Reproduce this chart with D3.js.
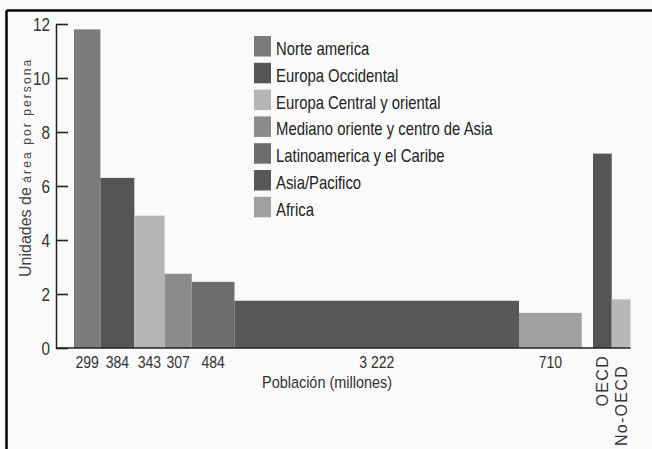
<!DOCTYPE html>
<html>
<head>
<meta charset="utf-8">
<script src="https://cdn.jsdelivr.net/npm/d3@7"></script>
<style>
  html, body { margin: 0; padding: 0; background: #fafafa; }
  svg { display: block; }
  text { font-family: "Liberation Sans", Arial, sans-serif; }
</style>
</head>
<body>
<svg id="chart" width="652" height="449"></svg>
<script>
// ---- data ----
const regions = ["Norte america", "Europa Occidental", "Europa Central y oriental",
  "Mediano oriente y centro de Asia", "Latinoamerica y el Caribe", "Asia/Pacifico", "Africa"];
const population = [299, 384, 343, 307, 484, 3222, 710];
const populationLabels = ["299", "384", "343", "307", "484", "3 222", "710"];
const areaPerPerson = [11.8, 6.3, 4.9, 2.75, 2.45, 1.75, 1.3];
const regionColors = ["#7b7b7b", "#555555", "#b5b5b5", "#8b8b8b", "#6d6d6d", "#585858", "#a0a0a0"];
const groups = ["OECD", "No-OECD"];
const groupValues = [7.2, 1.8];
const groupColors = ["#555555", "#b8b8b8"];
const yTicks = [0, 2, 4, 6, 8, 10, 12];

// ---- helpers ----
const SX = 0.85; // horizontal condensing (narrow typeface look)
function condensed(parent, x, y, str) {
  return parent.append("text")
    .attr("transform", `translate(${x},${y}) scale(${SX},1)`)
    .text(str);
}

// ---- layout ----
const svg = d3.select("#chart");
const axisX = 56, baseY = 348, topY = 24;

// frame (top and left lines)
svg.append("line").attr("x1", 6.5).attr("x2", 652).attr("y1", 10.5).attr("y2", 10.5)
  .attr("stroke", "#000").attr("stroke-width", 2.5);
svg.append("line").attr("x1", 6.5).attr("x2", 6.5).attr("y1", 10.5).attr("y2", 449)
  .attr("stroke", "#000").attr("stroke-width", 2.5);

const y = d3.scaleLinear().domain([0, 12]).range([baseY, topY]);
const cum = d3.cumsum(population);
const starts = population.map((p, i) => cum[i] - p);
const x = d3.scaleLinear().domain([0, d3.sum(population)]).range([74, 581.7]);
const xg = d3.scaleBand().domain(groups).range([593, 630.5]).padding(0);

// region bars
svg.append("g").selectAll("rect").data(regions).join("rect")
  .attr("x", (d, i) => x(starts[i]))
  .attr("width", (d, i) => x(cum[i]) - x(starts[i]))
  .attr("y", (d, i) => y(areaPerPerson[i]))
  .attr("height", (d, i) => baseY - y(areaPerPerson[i]))
  .attr("fill", (d, i) => regionColors[i]);

// group bars
svg.append("g").selectAll("rect").data(groups).join("rect")
  .attr("x", d => xg(d))
  .attr("width", xg.bandwidth())
  .attr("y", (d, i) => y(groupValues[i]))
  .attr("height", (d, i) => baseY - y(groupValues[i]))
  .attr("fill", (d, i) => groupColors[i]);

// y axis
const yAxis = d3.axisLeft(y).tickValues(yTicks).tickSizeInner(-12).tickSizeOuter(0).tickPadding(6);
const gy = svg.append("g").attr("transform", `translate(${axisX},0)`).call(yAxis);
gy.select(".domain").attr("stroke", "#222").attr("stroke-width", 1.5);
gy.selectAll(".tick line").attr("stroke", "#222").attr("stroke-width", 1.6);
gy.selectAll(".tick text")
  .attr("font-family", "Liberation Sans, Arial, sans-serif")
  .attr("font-size", 18).attr("fill", "#333")
  .attr("x", null).attr("dy", null)
  .attr("transform", `translate(-6,6.5) scale(${SX},1)`);

// bottom baseline
svg.append("line").attr("x1", axisX).attr("x2", xg.range()[1])
  .attr("y1", baseY).attr("y2", baseY).attr("stroke", "#222").attr("stroke-width", 1.5);

// population labels
const gl = svg.append("g").attr("font-size", 16.5).attr("fill", "#333").attr("text-anchor", "middle");
populationLabels.forEach((d, i) => {
  condensed(gl, (x(starts[i]) + x(cum[i])) / 2, 368, d);
});

// group labels (rotated)
svg.append("g").selectAll("text").data(groups).join("text")
  .attr("transform", (d, i) => `translate(${xg(d) + xg.bandwidth() / 2 + 6},${i === 0 ? 355 : 365}) rotate(-90)`)
  .attr("text-anchor", "end")
  .attr("font-size", 16)
  .attr("letter-spacing", 1.3)
  .attr("fill", "#333")
  .text(d => d);

// x title
const gxt = svg.append("g").attr("font-size", 17).attr("fill", "#333").attr("text-anchor", "middle");
condensed(gxt, 327, 388, "Población (millones)");

// y title
const yt = svg.append("text")
  .attr("transform", "translate(31,277) rotate(-90)")
  .attr("fill", "#444");
yt.append("tspan").attr("font-size", 16).text("Unidades de ");
yt.append("tspan").attr("font-size", 12).attr("letter-spacing", 2.1).text("área por persona");

// legend
const leg = svg.append("g").attr("font-size", 17.5).attr("fill", "#222");
regions.forEach((r, i) => {
  const ly = 36 + i * 26.8;
  leg.append("rect").attr("x", 254).attr("y", ly).attr("width", 17).attr("height", 20.5)
    .attr("fill", regionColors[i]);
  condensed(leg, 276, ly + 19, r);
});
</script>
</body>
</html>
